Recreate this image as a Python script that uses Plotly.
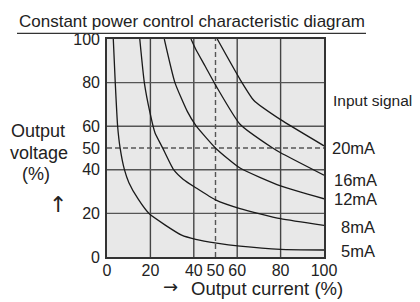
import plotly.graph_objects as go

# ---- data ----
x_ticks = [0, 20, 40, 50, 60, 80, 100]
y_ticks = [0, 20, 40, 50, 60, 80, 100]
grid_solid = [20, 40, 60, 80]
grid_dashed = [50]

i_5mA = [2.9, 3.8, 4.9, 6.0, 8.0, 10.1, 14.4, 19.5, 34.4, 40.9, 50.5, 61.3, 80, 100]
v_5mA = [100, 80, 60, 50.3, 40.2, 34.1, 26.5, 19.8, 10.0, 8.1, 6.4, 5.0, 3.5, 3.2]

i_8mA = [15.1, 17.2, 19.8, 22.1, 25.5, 30.6, 35.2, 40.9, 50.0, 61.3, 80, 100]
v_8mA = [100, 80, 66.2, 57, 50.3, 40.2, 35.6, 31.8, 26.2, 22.2, 17.6, 14.5]

i_12mA = [26.4, 31.3, 37.0, 40.9, 50.2, 61.3, 80, 100]
v_12mA = [100, 80, 66.8, 60.4, 49.8, 40.8, 32.6, 26.7]

i_16mA = [38.7, 40.9, 45.2, 50.3, 61.3, 76, 80, 100]
v_16mA = [100, 95.3, 87.6, 78.4, 60.9, 50.2, 47.8, 37.5]

i_20mA = [50.8, 61.3, 67.7, 80, 100]
v_20mA = [100, 81.5, 71.8, 63.0, 51.0]

signal_labels = ["20mA", "16mA", "12mA", "8mA", "5mA"]

FONT = "Liberation Sans, Arial, sans-serif"
ARROW_FONT = "DejaVu Sans, sans-serif"
TXT = "#222222"

# page offset: the page body adds an 8px margin around the figure
OFF = 8
PAGE_W, PAGE_H = 420, 302
W, H = PAGE_W - OFF, PAGE_H - OFF

fig = go.Figure()
for xs, ys in [(i_5mA, v_5mA), (i_8mA, v_8mA), (i_12mA, v_12mA),
               (i_16mA, v_16mA), (i_20mA, v_20mA)]:
    fig.add_trace(go.Scatter(x=xs, y=ys, mode="lines",
                             line=dict(color="#1a1a1a", width=1.3, shape="spline", smoothing=0.5),
                             hoverinfo="skip", showlegend=False))

shapes = []
for g in grid_solid:
    shapes.append(dict(type="line", xref="x", yref="y", x0=g, x1=g, y0=0, y1=100,
                       line=dict(color="#444444", width=1.4), layer="below"))
    shapes.append(dict(type="line", xref="x", yref="y", x0=0, x1=100, y0=g, y1=g,
                       line=dict(color="#555555", width=1.4), layer="below"))
for g in grid_dashed:
    shapes.append(dict(type="line", xref="x", yref="y", x0=g, x1=g, y0=0, y1=100,
                       line=dict(color="#555555", width=1.4, dash="5px,3px"), layer="below"))
    shapes.append(dict(type="line", xref="x", yref="y", x0=0, x1=100, y0=g, y1=g,
                       line=dict(color="#555555", width=1.4, dash="5px,3px"), layer="below"))

# plot area in page pixels
L, R, T, B = 107, 324, 39, 257
def px(x):
    return (x - L) / (R - L)
def py(y):
    return (B - y) / (B - T)

# title underline
shapes.append(dict(type="line", xref="paper", yref="paper", x0=px(17), x1=px(366),
                   y0=py(33.3), y1=py(33.3), line=dict(color="#333333", width=1.3)))

ann = []
def add(text, x, y, size, xanchor="center", family=FONT):
    ann.append(dict(text=text, xref="paper", yref="paper", x=px(x), y=py(y),
                    xanchor=xanchor, yanchor="middle", showarrow=False,
                    font=dict(family=family, size=size, color=TXT)))

add("Constant power control characteristic diagram", 191.5, 21, 17)
add("Output", 38, 131.5, 18)
add("voltage", 39, 153, 18)
add("(%)", 35.5, 174, 18)
add("↑", 58, 204, 22, family=ARROW_FONT)
add("→", 170, 286, 18, family=ARROW_FONT)
add("Output current (%)", 189, 288, 18.5, "left")
add("Input signal", 331, 100, 15.5, "left")
label_pos = [(330, 148.3), (331.5, 180), (331.5, 199.3), (339, 226.7), (339, 250.7)]
for t, (x, y) in zip(signal_labels, label_pos):
    add(t, x, y, 16.5, "left")

axis_common = dict(range=[0, 100], showgrid=False, zeroline=False, showline=True,
                   mirror=True, linecolor="#333333", linewidth=1.6, ticks="",
                   tickfont=dict(family=FONT, size=16, color=TXT), fixedrange=True)

fig.update_layout(
    width=W, height=H, autosize=False,
    margin=dict(l=L - OFF, r=W - (R - OFF), t=T - OFF, b=H - (B - OFF), pad=0),
    paper_bgcolor="white", plot_bgcolor="#e8e8e8",
    xaxis=dict(tickvals=x_ticks, ticktext=[str(v) for v in x_ticks], ticklabelstandoff=-2, **axis_common),
    yaxis=dict(tickvals=y_ticks, ticktext=[str(v) for v in y_ticks], ticklabelstandoff=2, **axis_common),
    shapes=shapes, annotations=ann, showlegend=False,
)

fig.write_html("out.html")
